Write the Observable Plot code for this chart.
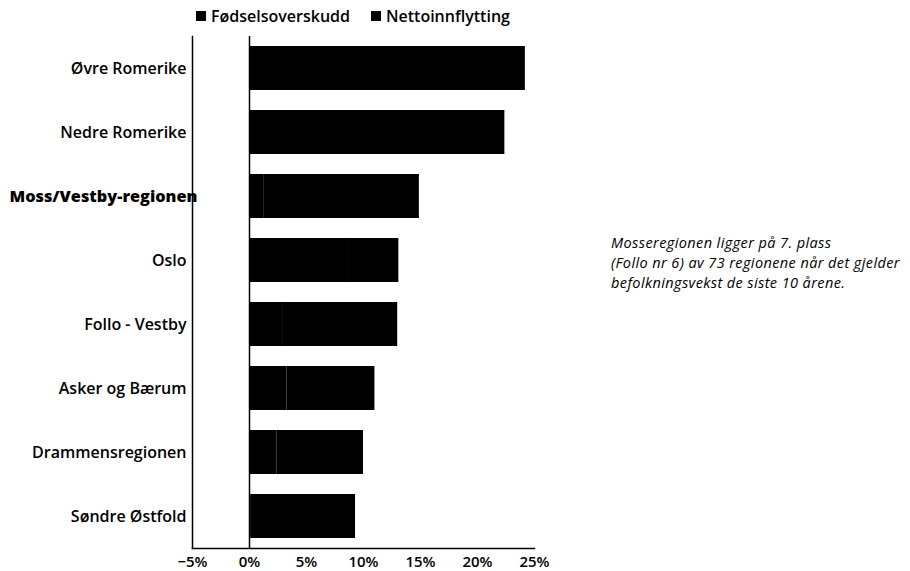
<!DOCTYPE html>
<html>
<head>
<meta charset="utf-8">
<script src="https://cdn.jsdelivr.net/npm/d3@7"></script>
<script src="https://cdn.jsdelivr.net/npm/@observablehq/plot@0.6"></script>
<style>
  html, body { margin: 0; padding: 0; background: #fff; }
  #wrap { position: relative; width: 910px; height: 571px; font-family: "Open Sans", sans-serif; }
  #legend { position: absolute; top: 5px; left: 196px; font-size: 16px; font-weight: 600; color: #000; white-space: nowrap; }
  #legend span.sw { display: inline-block; width: 10px; height: 10px; background: #000; margin-right: 5px; vertical-align: 1px; }
  #legend span.item { margin-right: 21px; }
  #note { position: absolute; top: 233px; left: 611px; font-size: 14.5px; font-style: italic; line-height: 20px; color: #000; font-weight: 400; white-space: nowrap; letter-spacing: 0.4px; }
</style>
</head>
<body>
<div id="wrap">
  <div id="chart"></div>
  <div id="legend"></div>
  <div id="note">Mosseregionen ligger på 7. plass<br>(Follo nr 6) av 73 regionene når det gjelder<br>befolkningsvekst de siste 10 årene.</div>
</div>
<script>
const regions = ["Øvre Romerike", "Nedre Romerike", "Moss/Vestby-regionen", "Oslo", "Follo - Vestby", "Asker og Bærum", "Drammensregionen", "Søndre Østfold"];
const series = ["Fødselsoverskudd", "Nettoinnflytting"];
const fodselsoverskudd = [5.0, 4.3, 1.3, 8.6, 2.9, 3.3, 2.4, 0.1];
const nettoinnflytting = [19.2, 18.1, 13.6, 4.5, 10.1, 7.7, 7.6, 9.2];
const xTicks = [-5, 0, 5, 10, 15, 20, 25];
const highlight = "Moss/Vestby-regionen";

const data = [];
regions.forEach((r, i) => {
  data.push({region: r, series: series[0], value: fodselsoverskudd[i]});
  data.push({region: r, series: series[1], value: nettoinnflytting[i]});
});

const fmt = d => (d < 0 ? "\u2212" : "") + Math.abs(d) + "%";

const chart = Plot.plot({
  width: 910,
  height: 571,
  marginLeft: 192,
  marginRight: 376,
  marginTop: 36,
  marginBottom: 23,
  style: {fontFamily: "Open Sans, sans-serif", background: "#fff", color: "#000"},
  x: {domain: [-5, 25], ticks: xTicks, tickFormat: fmt, label: null},
  y: {domain: regions, paddingInner: 0.31, paddingOuter: 0.155, axis: null, label: null},
  marks: [
    Plot.barX(data, Plot.stackX({x: "value", y: "region", z: "series", order: series, fill: "#000"})),
    Plot.ruleX([0], {stroke: "#000", strokeWidth: 1.5}),
    Plot.frame({anchor: "left", stroke: "#000", strokeWidth: 1.5}),
    Plot.frame({anchor: "bottom", stroke: "#000", strokeWidth: 1.5}),
    Plot.axisX({ticks: xTicks, tickFormat: fmt, tickSize: 0, tickPadding: 8, fontSize: 15, fontWeight: 600, anchor: "bottom", label: null}),
    Plot.text(regions.filter(r => r !== highlight), {x: -5, y: d => d, text: d => d, textAnchor: "end", dx: -6, fontSize: 16, fontWeight: 600, fill: "#000"}),
    Plot.text([highlight], {x: -5, y: d => d, text: d => d, textAnchor: "end", dx: 5, fontSize: 16.3, fontWeight: 800, fill: "#000"})
  ]
});
document.getElementById("chart").appendChild(chart);

const legend = document.getElementById("legend");
series.forEach(s => {
  const item = document.createElement("span");
  item.className = "item";
  const sw = document.createElement("span");
  sw.className = "sw";
  item.appendChild(sw);
  item.appendChild(document.createTextNode(s));
  legend.appendChild(item);
});
</script>
</body>
</html>
